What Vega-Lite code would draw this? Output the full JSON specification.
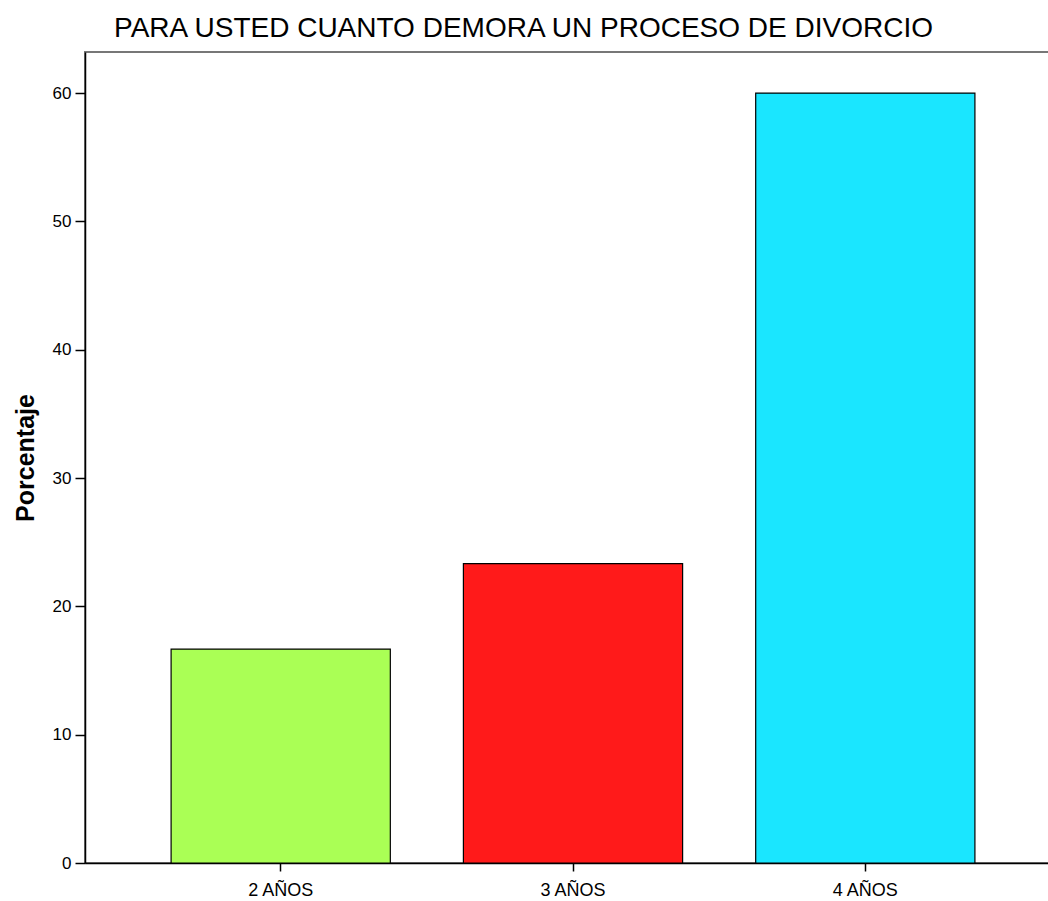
{
  "$schema": "https://vega.github.io/schema/vega-lite/v6.json",
  "width": 964,
  "height": 811,
  "autosize": {"type": "none"},
  "padding": {"left": 85, "top": 52, "right": 0, "bottom": 38},
  "background": "white",
  "title": {
    "text": "PARA USTED CUANTO DEMORA UN PROCESO DE DIVORCIO",
    "font": "Liberation Sans",
    "fontSize": 28,
    "fontWeight": "normal",
    "color": "#000000",
    "anchor": "start",
    "dx": 101,
    "offset": 9
  },
  "config": {
    "view": {"stroke": "#777777", "strokeWidth": 2},
    "axis": {
      "labelFont": "Liberation Sans",
      "titleFont": "Liberation Sans",
      "labelColor": "#000000",
      "titleColor": "#000000",
      "domainColor": "#000000",
      "tickColor": "#000000",
      "domainWidth": 1.5,
      "tickWidth": 1.5,
      "grid": false
    }
  },
  "data": {
    "values": [
      {"categoria": "2 AÑOS", "porcentaje": 16.67},
      {"categoria": "3 AÑOS", "porcentaje": 23.33},
      {"categoria": "4 AÑOS", "porcentaje": 60.0}
    ]
  },
  "mark": {"type": "bar", "stroke": "#000000", "strokeWidth": 1.2},
  "encoding": {
    "x": {
      "field": "categoria",
      "type": "nominal",
      "sort": null,
      "scale": {"paddingInner": 0.25, "paddingOuter": 0.274, "align": 0.5375},
      "axis": {
        "title": null,
        "labelAngle": 0,
        "labelFontSize": 18,
        "tickSize": 8,
        "labelPadding": 10
      }
    },
    "y": {
      "field": "porcentaje",
      "type": "quantitative",
      "scale": {"domain": [0, 63.2], "nice": false},
      "axis": {
        "title": "Porcentaje",
        "titleFontSize": 25,
        "titleFontWeight": "bold",
        "titlePadding": 14,
        "values": [0, 10, 20, 30, 40, 50, 60],
        "labelFontSize": 17,
        "tickSize": 10,
        "labelPadding": 4
      }
    },
    "color": {
      "field": "categoria",
      "type": "nominal",
      "scale": {"domain": ["2 AÑOS", "3 AÑOS", "4 AÑOS"], "range": ["#aaff55", "#ff1a1a", "#1ae6ff"]},
      "legend": null
    }
  }
}
